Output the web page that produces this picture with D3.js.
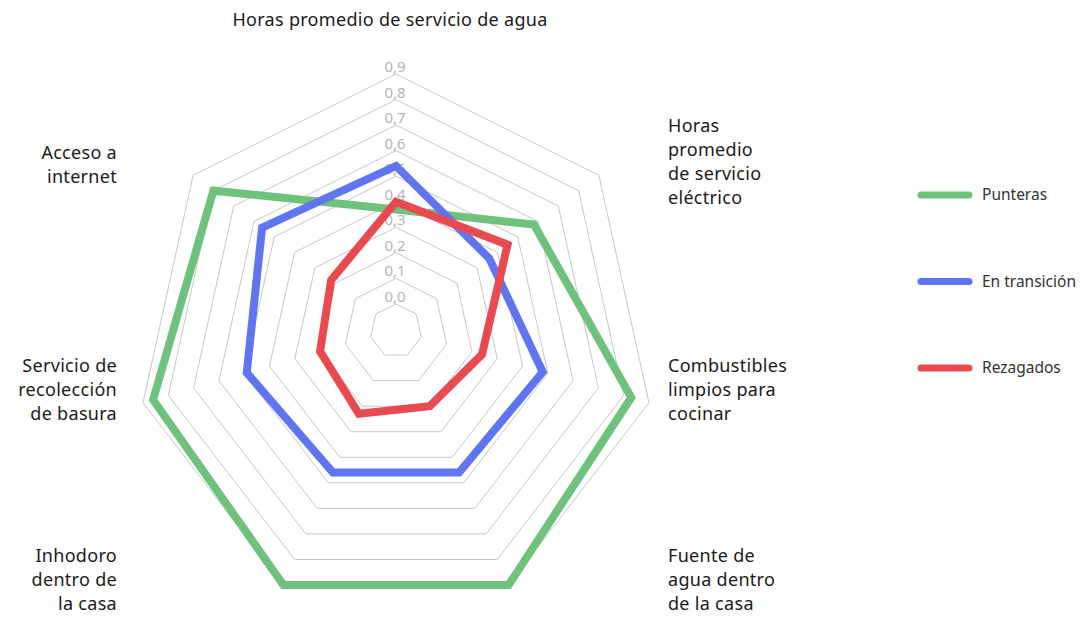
<!DOCTYPE html>
<html>
<head>
<meta charset="utf-8">
<script src="https://cdn.jsdelivr.net/npm/d3@7"></script>
<style>
  body { margin: 0; background: #fff; }
  text { font-family: "Noto Sans", sans-serif; }
  .axisLabel { font-size: 18px; fill: #1a1a1a; letter-spacing: 0.3px; }
  .tickLabel { font-size: 15px; fill: #b4b4b4; }
  .legendText { font-size: 15.5px; fill: #333; }
</style>
</head>
<body>
<div class="chart"></div>
<script>
// data
var categories = [
  "Horas promedio de servicio de agua",
  "Horas promedio de servicio eléctrico",
  "Combustibles limpios para cocinar",
  "Fuente de agua dentro de la casa",
  "Inhodoro dentro de la casa",
  "Servicio de recolección de basura",
  "Acceso a internet"
];
var seriesNames = ["Punteras", "En transición", "Rezagados"];
var punteras = [0.37, 0.58, 0.83, 0.90, 0.90, 0.86, 0.80];
var enTransicion = [0.54, 0.36, 0.48, 0.46, 0.46, 0.49, 0.56];
var rezagados = [0.40, 0.45, 0.24, 0.20, 0.23, 0.20, 0.22];
var tickValues = [0, 0.1, 0.2, 0.3, 0.4, 0.5, 0.6, 0.7, 0.8, 0.9];

var svgWidth = 1082;
var svgHeight = 617;

var cx = 396;
var cy = 329.5;
// the reference rings are slightly stretched and drift downward as they grow
var stretchY = 1.036;
var shiftY = 0.0514;

var svg = d3.select(".chart")
  .append("svg")
  .attr("width", svgWidth)
  .attr("height", svgHeight);

var rScale = d3.scaleLinear()
  .domain([-0.1, 0.9])
  .range([0, 259.5]);

var angleScale = d3.scaleLinear()
  .domain([0, categories.length])
  .range([0, 2 * Math.PI]);

var color = d3.scaleOrdinal()
  .domain(seriesNames)
  .range(["#6fc27b", "#5f75f1", "#e84a50"]);

function project(i, v) {
  var a = angleScale(i);
  var r = rScale(v);
  return [cx + r * Math.sin(a), cy + r * (shiftY - stretchY * Math.cos(a))];
}

var polygon = d3.line().curve(d3.curveLinearClosed);

// grid rings
svg.append("g")
  .selectAll("path")
  .data(tickValues)
  .enter()
  .append("path")
  .attr("d", t => polygon(categories.map((c, i) => project(i, t))))
  .attr("fill", "none")
  .attr("stroke", "#c6c6c6")
  .attr("stroke-width", 1);

// tick labels
var locale = d3.formatLocale({ decimal: ",", thousands: ".", grouping: [3], currency: ["", ""] });
var fmt = locale.format(".1f");

svg.append("g")
  .selectAll("text")
  .data(tickValues)
  .enter()
  .append("text")
  .attr("class", "tickLabel")
  .attr("x", d => project(0, d)[0] - 1)
  .attr("y", d => project(0, d)[1] - 2)
  .attr("text-anchor", "middle")
  .text(d => fmt(d));

// series
var seriesData = [punteras, enTransicion, rezagados];

svg.append("g")
  .selectAll("path")
  .data(seriesData)
  .enter()
  .append("path")
  .attr("d", vals => polygon(vals.map((v, i) => project(i, v))))
  .attr("fill", "none")
  .attr("stroke", (d, i) => color(seriesNames[i]))
  .attr("stroke-width", 8)
  .attr("stroke-linejoin", "miter");

// category labels, laid out in text blocks like the original
var labelLines = [
  ["Horas promedio de servicio de agua"],
  ["Horas", "promedio", "de servicio", "eléctrico"],
  ["Combustibles", "limpios para", "cocinar"],
  ["Fuente de", "agua dentro", "de la casa"],
  ["Inhodoro", "dentro de", "la casa"],
  ["Servicio de", "recolección", "de basura"],
  ["Acceso a", "internet"]
];
var labelLayout = [
  { x: 390, y: 26, anchor: "middle" },
  { x: 668, y: 132, anchor: "start" },
  { x: 668, y: 372, anchor: "start" },
  { x: 668, y: 562, anchor: "start" },
  { x: 117, y: 562, anchor: "end" },
  { x: 117, y: 372, anchor: "end" },
  { x: 117, y: 159, anchor: "end" }
];

var labels = svg.append("g")
  .selectAll("text")
  .data(labelLines)
  .enter()
  .append("text")
  .attr("class", "axisLabel")
  .attr("x", (d, i) => labelLayout[i].x)
  .attr("y", (d, i) => labelLayout[i].y)
  .attr("text-anchor", (d, i) => labelLayout[i].anchor);

labels.selectAll("tspan")
  .data((d, i) => d.map(line => ({ line: line, x: labelLayout[i].x })))
  .enter()
  .append("tspan")
  .attr("x", d => d.x)
  .attr("dy", (d, j) => j === 0 ? 0 : 24)
  .text(d => d.line);

// legend
var legendY = d3.scalePoint()
  .domain(seriesNames)
  .range([195, 368]);

var legend = svg.append("g")
  .selectAll("g")
  .data(seriesNames)
  .enter()
  .append("g")
  .attr("transform", d => `translate(0, ${legendY(d)})`);

legend.append("line")
  .attr("x1", 921)
  .attr("x2", 969)
  .attr("stroke", d => color(d))
  .attr("stroke-width", 7)
  .attr("stroke-linecap", "round");

legend.append("text")
  .attr("class", "legendText")
  .attr("x", 982)
  .attr("y", 5)
  .text(d => d);
</script>
</body>
</html>
